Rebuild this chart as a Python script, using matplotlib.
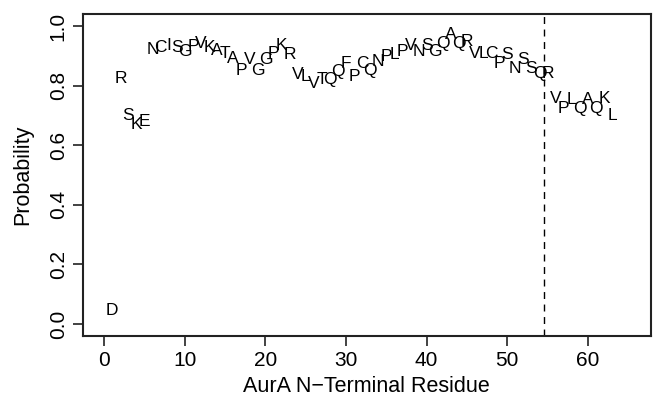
import matplotlib
matplotlib.use("Agg")
import matplotlib.pyplot as plt

plt.rcParams['font.family'] = ['Liberation Sans', 'DejaVu Sans']

# residue letters of the AurA N-terminus, positions 1..63
residues = list("DRSKENCISGPVKATAPVGGPKRVLVTQQFPCQNPLPVNSGQAQRVLCPSNSSQRVPLQAQKL")
positions = list(range(1, len(residues) + 1))
probability = [
    0.047, 0.824, 0.701, 0.671, 0.679, 0.922, 0.928, 0.933, 0.928, 0.914,
    0.931, 0.942, 0.927, 0.919, 0.908, 0.891, 0.852, 0.886, 0.852, 0.886,
    0.908, 0.936, 0.903, 0.836, 0.830, 0.808, 0.819, 0.819, 0.847, 0.875,
    0.830, 0.875, 0.852, 0.880, 0.897, 0.903, 0.914, 0.936, 0.914, 0.933,
    0.914, 0.942, 0.970, 0.942, 0.947, 0.908, 0.908, 0.908, 0.875, 0.903,
    0.858, 0.886, 0.858, 0.841, 0.841, 0.757, 0.724, 0.752, 0.724, 0.752,
    0.724, 0.757, 0.701,
]
cutoff = 54.5
xticks = [0, 10, 20, 30, 40, 50, 60]
yticks = [0.0, 0.2, 0.4, 0.6, 0.8, 1.0]

fig = plt.figure(figsize=(6.61, 4.04), dpi=100)
ax = fig.add_axes([0.1256, 0.1683, 0.8588, 0.797])

for x, y, aa in zip(positions, probability, residues):
    ax.text(x, y, aa, ha='center', va='center', fontsize=12.5, color='black')

ax.axvline(cutoff, color='black', lw=1, dashes=(5, 4))

ax.set_xlim(-2.64, 67.8)
ax.set_ylim(-0.04, 1.04)
ax.set_xticks(xticks)
ax.set_yticks(yticks)
ax.set_yticklabels([f"{v:.1f}" for v in yticks], rotation=90, va='center')
ax.tick_params(axis='both', labelsize=15, length=7, width=1.2, pad=4, color='#222222')

for s in ax.spines.values():
    s.set_linewidth(1.5)
    s.set_color('#222222')

ax.set_xlabel("AurA N\u2212Terminal Residue", fontsize=15.5, labelpad=4)
ax.set_ylabel("Probability", fontsize=15.5, labelpad=11)

fig.savefig("out.png", dpi=100)
